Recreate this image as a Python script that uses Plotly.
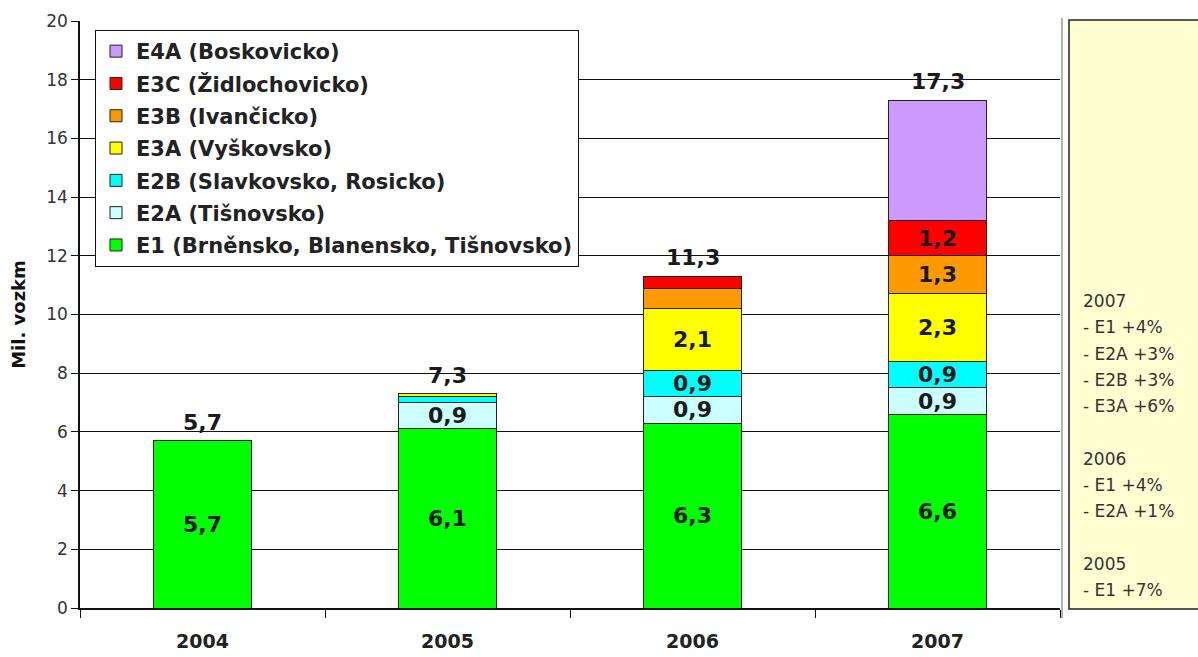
import plotly.graph_objects as go

# ---- data (million vehicle-km per year, by integration stage) ----
years = ["2004", "2005", "2006", "2007"]

e1 = [5.7, 6.1, 6.3, 6.6]
e2a = [None, 0.9, 0.9, 0.9]
e2b = [None, 0.2, 0.9, 0.9]
e3a = [None, 0.1, 2.1, 2.3]
e3b = [None, None, 0.7, 1.3]
e3c = [None, None, 0.4, 1.2]
e4a = [None, None, None, 4.1]

series_names = [
    "E1 (Brněnsko, Blanensko, Tišnovsko)",
    "E2A (Tišnovsko)",
    "E2B (Slavkovsko, Rosicko)",
    "E3A (Vyškovsko)",
    "E3B (Ivančicko)",
    "E3C (Židlochovicko)",
    "E4A (Boskovicko)",
]
series_values = [e1, e2a, e2b, e3a, e3b, e3c, e4a]
series_colors = ["#00FF00", "#CCFFFF", "#00FFFF", "#FFFF00", "#FF9900", "#FF0000", "#CC99FF"]

# which segments carry a value label (per series, per year)
labelled = [
    [True, True, True, True],
    [False, True, True, True],
    [False, False, True, True],
    [False, False, True, True],
    [False, False, False, True],
    [False, False, False, True],
    [False, False, False, False],
]

notes = [
    "2007", "- E1 +4%", "- E2A +3%", "- E2B +3%", "- E3A +6%", "",
    "2006", "- E1 +4%", "- E2A +1%", "",
    "2005", "- E1 +7%",
]

totals = [round(sum(v[i] or 0 for v in series_values), 1) for i in range(len(years))]


def fmt(v):
    return f"{v:.1f}".replace(".", ",")


# ---- layout geometry (pixels) ----
W_PX, H_PX = 1198, 657
L, R, T, B = 80, 1060, 21, 608


def px_x(px):
    return (px - L) / (R - L)


def px_y(py):
    return (B - py) / (B - T)


VALUE_FONT = dict(family="DejaVu Sans", size=22, color="#1A1A1A", weight="bold")

fig = go.Figure()
n = len(series_names)
for k, (name, vals, col, show) in enumerate(zip(series_names, series_values, series_colors, labelled)):
    fig.add_trace(go.Bar(
        x=years, y=vals, name=name,
        legendgroup=f"g{k}", legendrank=100 + (n - k),
        marker=dict(color=col, line=dict(color="#222222", width=1)),
        width=0.4,
        text=[fmt(v) if (s and v) else "" for v, s in zip(vals, show)],
        textposition="inside",
        insidetextanchor="middle",
        textangle=0,
        constraintext="none",
        textfont=VALUE_FONT,
        cliponaxis=False,
        hoverinfo="skip",
    ))

# totals above the stacks (category index positions)
for i, tot in enumerate(totals):
    fig.add_annotation(
        x=i, y=tot, xref="x", yref="y", text=fmt(tot),
        showarrow=False, yanchor="bottom", yshift=4, font=VALUE_FONT,
    )

# side note panel
fig.add_shape(
    type="rect", xref="paper", yref="paper",
    x0=px_x(1069), x1=px_x(1210), y0=px_y(609), y1=px_y(20),
    fillcolor="#FFFFD2", line=dict(color="#222222", width=1.5), layer="below",
)
# right frame line of the chart area
fig.add_shape(
    type="line", xref="paper", yref="paper",
    x0=px_x(1062), x1=px_x(1062), y0=px_y(618), y1=px_y(18),
    line=dict(color="#9A9A9A", width=1.5),
)
for i, line in enumerate(notes):
    if not line:
        continue
    fig.add_annotation(
        xref="paper", yref="paper", x=px_x(1081), y=px_y(301 + i * 26.3),
        text=line, showarrow=False, xanchor="left", yanchor="middle",
        font=dict(family="DejaVu Sans", size=17, color="#333333"),
    )

fig.update_layout(
    width=W_PX, height=H_PX, autosize=False,
    margin=dict(l=L, r=W_PX - R, t=T, b=H_PX - B, pad=0, autoexpand=False),
    barmode="stack",
    plot_bgcolor="white", paper_bgcolor="white",
    uniformtext=dict(minsize=22, mode="show"),
    legend=dict(
        x=px_x(95), y=px_y(30), xanchor="left", yanchor="top",
        traceorder="grouped", tracegroupgap=2,
        bgcolor="white", bordercolor="#111111", borderwidth=1,
        font=dict(family="DejaVu Sans", size=21, color="#222222", weight="bold"),
        itemwidth=30,
    ),
    xaxis=dict(
        type="category", range=[-0.5, 3.5], automargin=False,
        showline=True, linecolor="#111111", linewidth=1.5,
        ticks="outside", tickson="boundaries", ticklen=8, tickcolor="#111111",
        tickfont=dict(family="DejaVu Sans", size=19, color="#222222", weight="bold"),
        ticklabelstandoff=15,
        showgrid=False, zeroline=False,
    ),
    yaxis=dict(
        range=[0, 20], dtick=2, tick0=0, automargin=False,
        showline=True, linecolor="#111111", linewidth=1.5,
        ticks="outside", ticklen=7, tickcolor="#111111",
        tickfont=dict(family="DejaVu Sans", size=17, color="#333333"),
        showgrid=True, gridcolor="#111111", gridwidth=1,
        zeroline=False,
        title=dict(text="Mil. vozkm", standoff=16,
                   font=dict(family="DejaVu Sans", size=18, color="#111111", weight="bold")),
    ),
    showlegend=True,
)

fig.write_html("out.html")
